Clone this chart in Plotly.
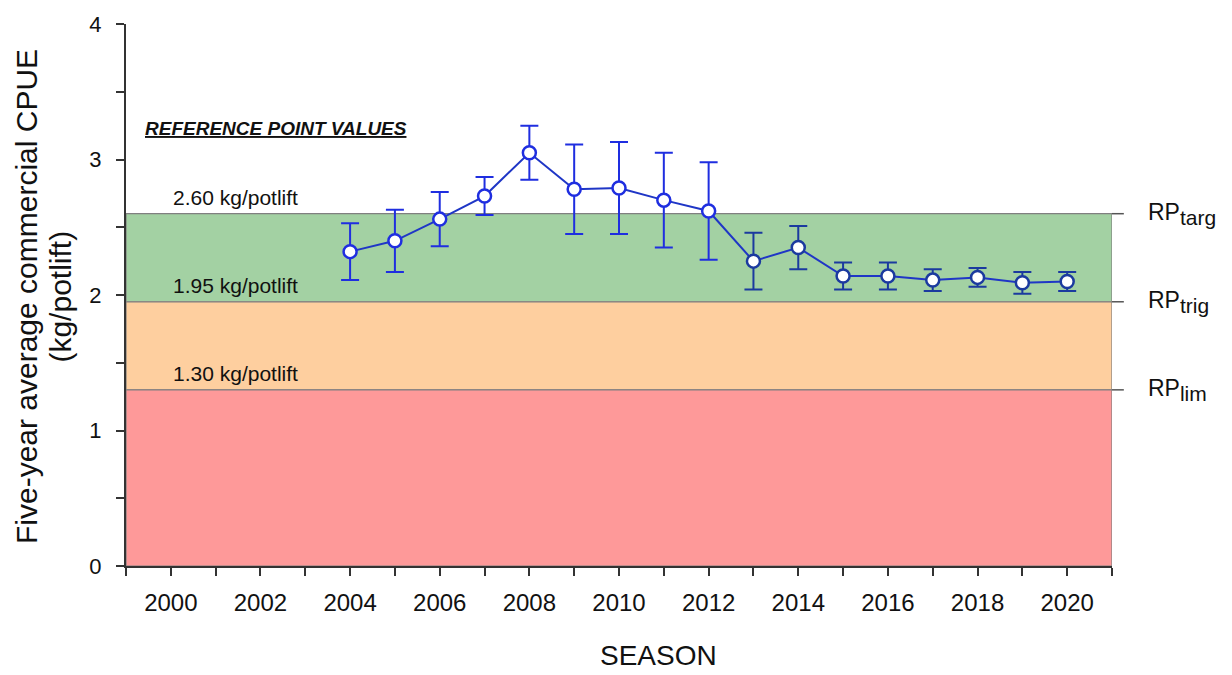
import plotly.graph_objects as go

# Five-year average commercial CPUE by season, with confidence bounds
seasons = [2004, 2005, 2006, 2007, 2008, 2009, 2010, 2011, 2012,
           2013, 2014, 2015, 2016, 2017, 2018, 2019, 2020]
cpue = [2.32, 2.40, 2.56, 2.73, 3.05, 2.78, 2.79, 2.70, 2.62,
        2.25, 2.35, 2.14, 2.14, 2.11, 2.13, 2.09, 2.10]
cpue_upper = [2.53, 2.63, 2.76, 2.87, 3.25, 3.11, 3.13, 3.05, 2.98,
              2.46, 2.51, 2.24, 2.24, 2.19, 2.20, 2.17, 2.17]
cpue_lower = [2.11, 2.17, 2.36, 2.59, 2.85, 2.45, 2.45, 2.35, 2.26,
              2.04, 2.19, 2.04, 2.04, 2.03, 2.06, 2.01, 2.03]

# Reference points (kg/potlift)
rp_names = ["targ", "trig", "lim"]
rp_values = [2.60, 1.95, 1.30]
band_colors = ["#a3d1a3", "#fecf9f", "#fe9999"]

year_ticks = list(range(2000, 2021, 2))
y_ticks = [0, 1, 2, 3, 4]

FONT = "Liberation Sans, Arial, sans-serif"
early_col = "#1f2ee0"
late_col = "#1b3a9f"
line_col = "#1f36c6"

fig = go.Figure()

# connecting line
fig.add_trace(go.Scatter(
    x=seasons, y=cpue, mode="lines",
    line=dict(color=line_col, width=2), hoverinfo="skip", showlegend=False))

split = seasons.index(2013)
groups = [(slice(0, split), early_col), (slice(split, None), late_col)]
for sl, col in groups:
    xs = seasons[sl]
    ys = cpue[sl]
    up = [u - v for u, v in zip(cpue_upper[sl], ys)]
    dn = [v - l for v, l in zip(ys, cpue_lower[sl])]
    fig.add_trace(go.Scatter(
        x=xs, y=ys, mode="markers",
        marker=dict(symbol="circle", size=13, color="white",
                    line=dict(color=col, width=2.5)),
        error_y=dict(type="data", symmetric=False, array=up, arrayminus=dn,
                     color=col, thickness=2, width=9),
        showlegend=False))

# Coloured zones between reference points
lows = rp_values[1:] + [0]
shapes = []
for top, low, col in zip(rp_values, lows, band_colors):
    shapes.append(dict(type="rect", xref="x", yref="y", x0=1999, x1=2021,
                       y0=low, y1=top, fillcolor=col,
                       line=dict(color="#808080", width=1.2), layer="below"))
# short outside ticks on the right at each reference point
for v in rp_values:
    shapes.append(dict(type="line", xref="paper", yref="y", x0=1.0, x1=1.012,
                       y0=v, y1=v, line=dict(color="#555555", width=1.5)))

annotations = [
    dict(text="<b><i><u>REFERENCE POINT VALUES</u></i></b>", xref="x", yref="y",
         x=1999.38, y=3.23, xanchor="left", yanchor="middle", showarrow=False,
         font=dict(family=FONT, size=19, color="#111111")),
    dict(text="SEASON", xref="paper", yref="paper", x=0.5396, y=-0.166,
         xanchor="center", yanchor="middle", showarrow=False,
         font=dict(family=FONT, size=28, color="#111111")),
    dict(text="Five-year average commercial CPUE", xref="paper", yref="paper",
         x=-0.101, y=0.497, xanchor="center", yanchor="middle", textangle=-90,
         showarrow=False, font=dict(family=FONT, size=30, color="#111111")),
    dict(text="(kg/potlift)", xref="paper", yref="paper",
         x=-0.066, y=0.497, xanchor="center", yanchor="middle", textangle=-90,
         showarrow=False, font=dict(family=FONT, size=30, color="#111111")),
]
for name, v in zip(rp_names, rp_values):
    annotations.append(dict(
        text=f"{v:.2f} kg/potlift", xref="x", yref="y", x=2000.0, y=v,
        xanchor="left", yanchor="bottom", yshift=3, showarrow=False,
        font=dict(family=FONT, size=21, color="#111111")))
    annotations.append(dict(
        text=f"RP<sub><span style='font-size:21px'>{name}</span></sub>",
        xref="paper", yref="y", x=1.0345, y=v,
        xanchor="left", yanchor="middle", showarrow=False,
        font=dict(family=FONT, size=23, color="#111111")))

fig.update_layout(
    width=1232, height=675,
    margin=dict(l=126, r=120, t=19, b=109),
    paper_bgcolor="white", plot_bgcolor="white",
    shapes=shapes, annotations=annotations,
    font=dict(family=FONT, color="#111111"),
    xaxis=dict(range=[1999, 2021], tickvals=year_ticks, ticks="outside",
               ticklen=8, tickwidth=1.5, tickcolor="#333333",
               showline=True, linecolor="#333333", linewidth=2,
               showgrid=False, zeroline=False, ticklabelstandoff=6,
               tickfont=dict(family=FONT, size=24, color="#111111"),
               minor=dict(dtick=1, tick0=1999, ticks="outside", ticklen=8,
                          tickwidth=1.5, tickcolor="#333333", showgrid=False)),
    yaxis=dict(range=[0, 4], tickvals=y_ticks, ticks="outside",
               ticklen=8, tickwidth=1.5, tickcolor="#333333",
               showline=True, linecolor="#333333", linewidth=2,
               showgrid=False, zeroline=False, ticklabelstandoff=10,
               tickfont=dict(family=FONT, size=22, color="#111111"),
               minor=dict(dtick=0.5, tick0=0, ticks="outside", ticklen=8,
                          tickwidth=1.5, tickcolor="#333333", showgrid=False)),
)

fig.write_html("out.html")
